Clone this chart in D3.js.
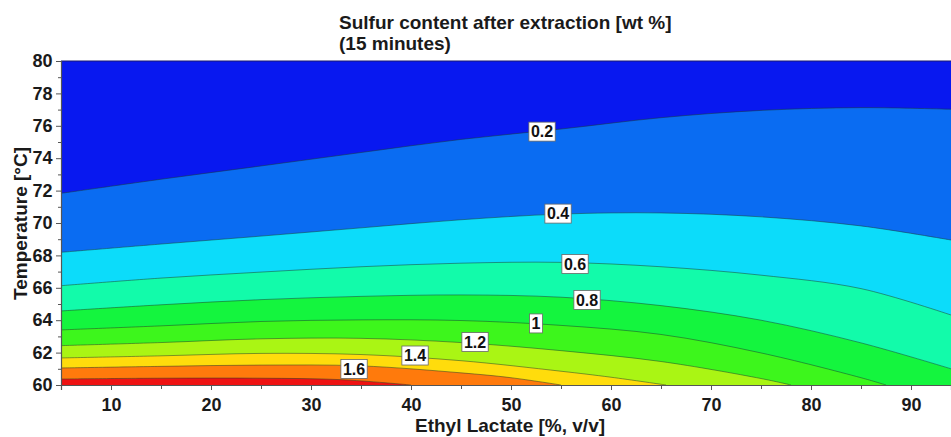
<!DOCTYPE html>
<html>
<head>
<meta charset="utf-8">
<script src="https://cdn.jsdelivr.net/npm/d3@7/dist/d3.min.js"></script>
<style>
  html, body { margin: 0; padding: 0; background: #fff; }
  svg { display: block; }
  text { font-family: "Liberation Sans", Arial, sans-serif; font-weight: bold; fill: #1a1a1a; }
</style>
</head>
<body>
<svg id="chart" width="951" height="437"></svg>
<script>
// ---------- data ----------
const titleLines = ["Sulfur content after extraction [wt %]", "(15 minutes)"];
const xLabel = "Ethyl Lactate [%, v/v]";
const yLabel = "Temperature [°C]";
const xDomain = [5, 94];
const yDomain = [60, 80];
const xTicks = [10, 20, 30, 40, 50, 60, 70, 80, 90];
const xMinorTicks = [5, 15, 25, 35, 45, 55, 65, 75, 85];
const yTicks = [60, 62, 64, 66, 68, 70, 72, 74, 76, 78, 80];
const yMinorTicks = [61, 63, 65, 67, 69, 71, 73, 75, 77, 79];

// contour levels and the band colours (band i lies below level i)
const levels = [0.2, 0.4, 0.6, 0.8, 1.0, 1.2, 1.4, 1.6, 1.8];
const bandColors = ["#0818f0", "#0a6cf2", "#0cdcfa", "#12fbaa", "#14f53e", "#3df61c", "#aaf514", "#ffdc0c", "#ff7a0c", "#ee1212"];

// contour line positions [ethyl lactate %, temperature °C]
const c02 = [[5,71.83],[15,72.7],[25,73.52],[35,74.35],[45,75.16],[55,75.8],[65,76.5],[75,76.95],[85,77.12],[94,77.02]];
const c04 = [[5,68.19],[15,68.7],[25,69.19],[35,69.7],[45,70.2],[55,70.55],[65,70.62],[75,70.38],[85,69.82],[94,68.95]];
const c06 = [[5,66.13],[15,66.6],[25,66.97],[35,67.3],[45,67.52],[55,67.57],[65,67.3],[75,66.78],[85,65.95],[94,64.32]];
const c08 = [[5,64.57],[15,64.95],[25,65.27],[35,65.47],[45,65.56],[55,65.42],[65,64.9],[75,64.0],[85,62.6],[94,61.0]];
const c10 = [[5,63.4],[15,63.65],[25,63.92],[35,64.02],[45,63.98],[55,63.68],[65,63.12],[75,61.98],[85,60.45],[87.5,60]];
const c12 = [[5,62.43],[15,62.62],[25,62.85],[35,62.88],[45,62.62],[55,62.12],[65,61.45],[75,60.4],[78,60]];
const c14 = [[5,61.67],[15,61.8],[25,61.95],[35,61.88],[45,61.5],[55,60.85],[60,60.48],[65.5,60]];
const c16 = [[5,61.05],[15,61.15],[25,61.23],[35,61.18],[45,60.75],[50,60.45],[55,60]];
const c18 = [[5,60.37],[15,60.42],[25,60.42],[33,60.33],[40,60]];
const contourLines = [c02, c04, c06, c08, c10, c12, c14, c16, c18];

// inline contour labels
const labelText = ["0.2", "0.4", "0.6", "0.8", "1", "1.2", "1.4", "1.6"];
const labelX = [53.1, 54.7, 56.4, 57.6, 52.5, 46.4, 40.4, 34.3];
const labelY = [75.64, 70.58, 67.47, 65.25, 63.8, 62.65, 61.82, 60.99];

// ---------- drawing ----------
const svg = d3.select("#chart");
const plot = { left: 61, right: 951, top: 61, bottom: 385 };

const x = d3.scaleLinear().domain(xDomain).range([plot.left, plot.right]);
const y = d3.scaleLinear().domain(yDomain).range([plot.bottom, plot.top]);

svg.append("defs").append("clipPath").attr("id", "plotClip")
  .append("rect")
  .attr("x", plot.left).attr("y", plot.top)
  .attr("width", plot.right - plot.left).attr("height", plot.bottom - plot.top);

const g = svg.append("g").attr("clip-path", "url(#plotClip)");

// highest band fills the whole plot first
g.append("rect")
  .attr("x", x(xDomain[0])).attr("y", y(yDomain[1]))
  .attr("width", x(xDomain[1]) - x(xDomain[0]))
  .attr("height", y(yDomain[0]) - y(yDomain[1]))
  .attr("fill", bandColors[bandColors.length - 1]);

const lineGen = d3.line()
  .x(d => x(d[0])).y(d => y(d[1]))
  .curve(d3.curveCatmullRom.alpha(0.5));

// paint regions "value below level" from highest level to lowest
for (let i = levels.length - 1; i >= 0; i--) {
  const pts = contourLines[i];
  const last = pts[pts.length - 1];
  let path = lineGen(pts);
  if (last[0] < xDomain[1]) path += `L${x(xDomain[1])},${y(yDomain[0])}`;
  path += `L${x(xDomain[1])},${y(yDomain[1])}L${x(xDomain[0])},${y(yDomain[1])}Z`;
  g.append("path").attr("d", path).attr("fill", bandColors[i]).attr("stroke", "none");
}

// contour lines
contourLines.forEach(pts => {
  g.append("path").attr("d", lineGen(pts))
    .attr("fill", "none").attr("stroke", "#1c3a2c").attr("stroke-opacity", 0.55)
    .attr("stroke-width", 0.9);
});

// top frame line
svg.append("line")
  .attr("x1", plot.left).attr("x2", plot.right)
  .attr("y1", plot.top).attr("y2", plot.top)
  .attr("stroke", "#1a1a70").attr("stroke-width", 1.2);

// inline labels
const lab = svg.append("g");
labelText.forEach((t, i) => {
  const cx = x(labelX[i]), cy = y(labelY[i]);
  const txt = lab.append("text")
    .attr("x", cx).attr("y", cy)
    .attr("text-anchor", "middle").attr("dy", "0.36em")
    .style("font-size", "16px").style("fill", "#111")
    .text(t);
  const bb = txt.node().getBBox();
  lab.insert("rect", "text")
    .attr("x", bb.x - 2).attr("y", cy - 9.5)
    .attr("width", bb.width + 4).attr("height", 19)
    .attr("fill", "#fff").attr("stroke", "#666").attr("stroke-width", 0.8);
});

// axes
const fontSize = "18px";
svg.append("g").attr("transform", `translate(0,${plot.bottom})`)
  .call(d3.axisBottom(x).tickValues(xTicks).tickSize(5).tickPadding(8).tickFormat(d3.format("d")));
svg.append("g").attr("transform", `translate(0,${plot.bottom})`)
  .call(d3.axisBottom(x).tickValues(xMinorTicks).tickSize(4).tickFormat(""))
  .call(a => a.select(".domain").remove());
svg.append("g").attr("transform", `translate(${plot.left},0)`)
  .call(d3.axisLeft(y).tickValues(yTicks).tickSize(5).tickPadding(3.5).tickFormat(d3.format("d")));
svg.append("g").attr("transform", `translate(${plot.left},0)`)
  .call(d3.axisLeft(y).tickValues(yMinorTicks).tickSize(3).tickFormat(""))
  .call(a => a.select(".domain").remove());

svg.selectAll(".tick line").attr("stroke", "#555");
svg.selectAll(".domain").attr("stroke", "#555").attr("stroke-width", 1.2);
svg.selectAll(".tick text").style("font-size", fontSize).style("font-family", "'Liberation Sans', Arial, sans-serif")
  .style("font-weight", "bold").attr("fill", "#1a1a1a");

// titles
svg.append("text").attr("x", 339).attr("y", 28.5).style("font-size", "19px").text(titleLines[0]);
svg.append("text").attr("x", 339).attr("y", 49.5).style("font-size", "19px").text(titleLines[1]);

svg.append("text")
  .attr("x", 510).attr("y", 432)
  .attr("text-anchor", "middle")
  .style("font-size", "19px")
  .text(xLabel);

svg.append("text")
  .attr("transform", `translate(26.5,${223.5}) rotate(-90)`)
  .attr("text-anchor", "middle")
  .style("font-size", "19px")
  .text(yLabel);
</script>
</body>
</html>
